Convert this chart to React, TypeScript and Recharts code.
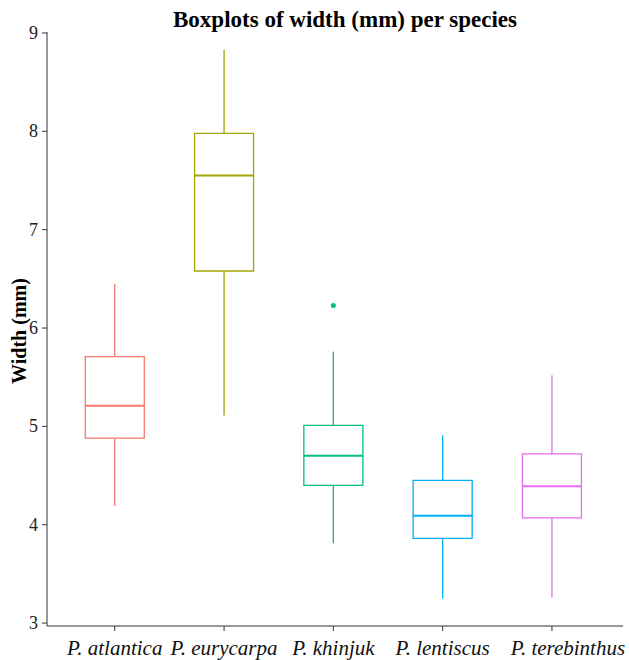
import React from 'react';
import { ComposedChart, XAxis, YAxis, Scatter, ReferenceArea, ReferenceLine } from 'recharts';

const species = ['P. atlantica', 'P. eurycarpa', 'P. khinjuk', 'P. lentiscus', 'P. terebinthus'];
const colors = ['#F8766D', '#A3A500', '#00BF7D', '#00B0F6', '#E76BF3'];

// five-number summaries
const whiskerLow = [4.19, 5.11, 3.81, 3.25, 3.26];
const q1 = [4.88, 6.58, 4.40, 3.86, 4.07];
const median = [5.21, 7.55, 4.70, 4.09, 4.39];
const q3 = [5.71, 7.98, 5.01, 4.45, 4.72];
const whiskerHigh = [6.45, 8.83, 5.76, 4.91, 5.52];

const outliers = [{ x: 3, y: 6.23 }];

const yTicks = [3, 4, 5, 6, 7, 8, 9];
const halfWidth = 0.27;

const serif = '"Liberation Serif", "Times New Roman", serif';

const renderXTick = (props: any) => {
  const { x, y, payload } = props;
  // the last label sits pushed right against the edge in the original
  const shift = payload.value === 5 ? 16 : 0;
  return (
    <text x={x + shift} y={y + 14} textAnchor="middle" style={{ fontFamily: serif, fontStyle: 'italic', fontSize: 21 }} fill="#111">
      {species[payload.value - 1]}
    </text>
  );
};

const renderYTick = (props: any) => {
  const { x, y, payload } = props;
  return (
    <text x={x} y={y + 6} textAnchor="end" style={{ fontFamily: serif, fontSize: 18 }} fill="#222">
      {payload.value}
    </text>
  );
};

const Dot = ({ cx, cy }: any) => <circle cx={cx} cy={cy} r={2.5} fill={colors[2]} />;

const App = () => {
  return (
    <div style={{ position: 'absolute', left: 0, top: 0, width: 629, height: 660, background: '#fff', fontFamily: serif }}>
      <ComposedChart width={629} height={660} margin={{ top: 32, right: 6, bottom: 0, left: 0 }}>
        <XAxis
          type="number"
          dataKey="x"
          domain={[0.38, 5.65]}
          ticks={[1, 2, 3, 4, 5]}
          allowDataOverflow
          height={34}
          tickSize={5}
          tickMargin={10}
          stroke="#333"
          tick={renderXTick}
        />
        <YAxis
          type="number"
          dataKey="y"
          domain={[2.97, 9.01]}
          ticks={yTicks}
          allowDataOverflow
          width={47}
          tickSize={5}
          tickMargin={4}
          stroke="#333"
          tick={renderYTick}
        />
        {species.map((s, i) => (
          <ReferenceLine
            key={`lo-${s}`}
            segment={[{ x: i + 1, y: whiskerLow[i] }, { x: i + 1, y: q1[i] }]}
            stroke={colors[i]}
            strokeWidth={1.3}
          />
        ))}
        {species.map((s, i) => (
          <ReferenceLine
            key={`hi-${s}`}
            segment={[{ x: i + 1, y: q3[i] }, { x: i + 1, y: whiskerHigh[i] }]}
            stroke={colors[i]}
            strokeWidth={1.3}
          />
        ))}
        {species.map((s, i) => (
          <ReferenceArea
            key={`box-${s}`}
            x1={i + 1 - halfWidth}
            x2={i + 1 + halfWidth}
            y1={q1[i]}
            y2={q3[i]}
            fill="#fff"
            fillOpacity={1}
            stroke={colors[i]}
            strokeWidth={1.3}
          />
        ))}
        {species.map((s, i) => (
          <ReferenceLine
            key={`med-${s}`}
            segment={[{ x: i + 1 - halfWidth, y: median[i] }, { x: i + 1 + halfWidth, y: median[i] }]}
            stroke={colors[i]}
            strokeWidth={2}
          />
        ))}
        <Scatter data={outliers} dataKey="y" shape={<Dot />} isAnimationActive={false} />
      </ComposedChart>
      <svg width={629} height={660} style={{ position: 'absolute', left: 0, top: 0, pointerEvents: 'none' }}>
        <text x={345} y={27} textAnchor="middle" fontFamily={serif} fontWeight="bold" fontSize={23} fill="#000">
          Boxplots of width (mm) per species
        </text>
        <text
          x={0}
          y={0}
          transform="translate(26, 331) rotate(-90)"
          textAnchor="middle"
          fontFamily={serif}
          fontWeight="bold"
          fontSize={20}
          fill="#000"
        >
          Width (mm)
        </text>
      </svg>
    </div>
  );
};

export default App;
